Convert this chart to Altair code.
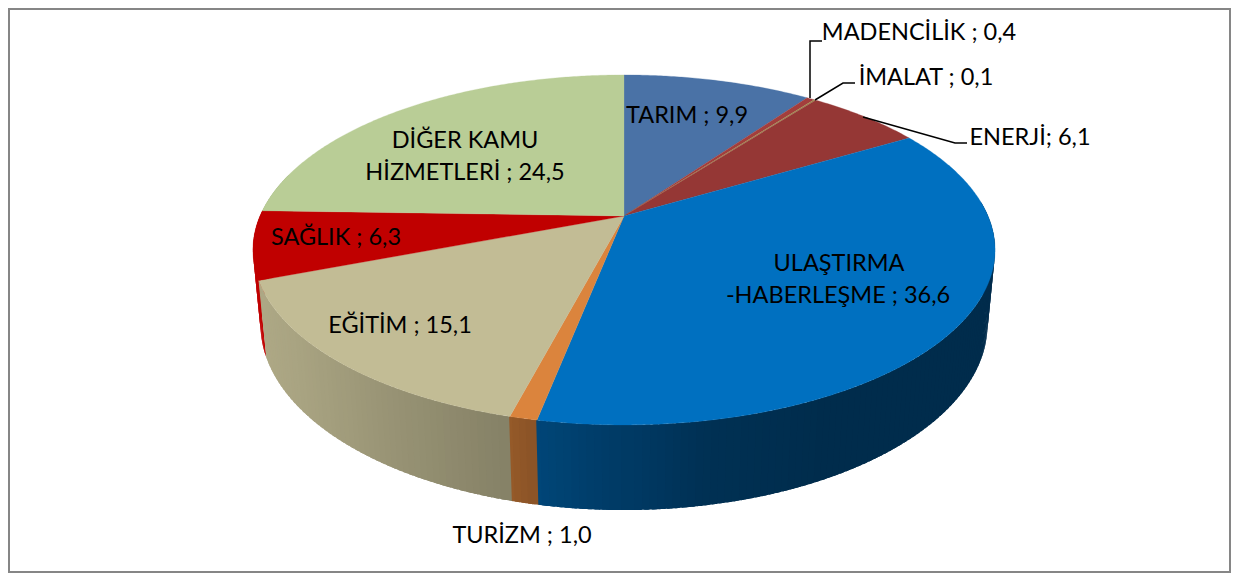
import math
import altair as alt
import pandas as pd

# ---- data ----
categories = ["TARIM", "MADENCİLİK", "İMALAT", "ENERJİ", "ULAŞTIRMA-HABERLEŞME",
              "TURİZM", "EĞİTİM", "SAĞLIK", "DİĞER KAMU HİZMETLERİ"]
values = [9.9, 0.4, 0.1, 6.1, 36.6, 1.0, 15.1, 6.3, 24.5]
colors = ["#4A72A6", "#A33E3C", "#A08A50", "#953735", "#0070C0",
          "#DB843D", "#C2BC95", "#C00000", "#B9CD96"]

label_lines = ["TARIM ; 9,9", "MADENCİLİK ; 0,4", "İMALAT ; 0,1", "ENERJİ; 6,1",
               "ULAŞTIRMA", "-HABERLEŞME ; 36,6", "TURİZM ; 1,0", "EĞİTİM ; 15,1",
               "SAĞLIK ; 6,3", "DİĞER KAMU", "HİZMETLERİ ; 24,5"]
label_x = [687, 919, 926, 1030, 839, 838, 522, 400, 336, 465, 465]
label_y = [116, 33, 78, 138, 264, 296, 536, 326, 238, 141, 173]

leader_paths = [
    [[810, 98], [810, 41], [822, 41]],
    [[815, 100], [843, 83], [855, 83]],
    [[863, 117], [955, 143], [967, 143]],
]

# ---- perspective view of the disc (page pixels) ----
CX, AY = 624.0, 216.0
RX, RY, K = 364.0, 168.4, 0.194
DEPTH, M = 74.5, 0.02
TOTAL = sum(values)


def project(deg, z=0.0):
    t = math.radians(deg)
    X, Y = math.sin(t), math.cos(t)
    w = 1.0 / (1.0 + K * Y + M * z)
    return [CX + RX * X * w, AY + (-RY * Y + DEPTH * z) * w]


def arc_degs(a, b, step=1.0):
    n = max(1, int(math.ceil((b - a) / step)))
    return [a + (b - a) * i / n for i in range(n + 1)]


def shade(hex_color, f):
    r, g, b = (int(hex_color[i:i + 2], 16) for i in (1, 3, 5))
    return "#%02x%02x%02x" % (int(r * f), int(g * f), int(b * f))


def side_factor(x):
    stops = [(255, 0.90), (300, 0.87), (400, 0.78), (510, 0.69), (545, 0.62),
             (700, 0.44), (820, 0.40), (1000, 0.40)]
    for (x0, f0), (x1, f1) in zip(stops, stops[1:]):
        if x <= x1:
            return f0 + (f1 - f0) * (x - x0) / (x1 - x0)
    return stops[-1][1]


def feature(ring, fill):
    return {"type": "Feature",
            "geometry": {"type": "Polygon", "coordinates": [ring + [ring[0]]]},
            "properties": {"fill": fill}}


bounds = []
acc = 0.0
for v in values:
    bounds.append((acc / TOTAL * 360.0, (acc + v) / TOTAL * 360.0))
    acc += v

# side strips, back to front; each strip overlaps its neighbours a little
strips = []
for (a, b), col, cat in zip(bounds, colors, categories):
    lo, hi = max(a, 85.0), min(b, 285.0)
    if hi <= lo:
        continue
    degs = arc_degs(lo, hi, 1.0)
    for d0, d1 in zip(degs, degs[1:]):
        mid = (d0 + d1) / 2
        if mid < 180:
            e0, e1 = max(d0 - 0.6, lo - 0.1), min(d1 + 0.1, hi + 0.1)
        else:
            e0, e1 = max(d0 - 0.1, lo - 0.1), min(d1 + 0.6, hi + 0.1)
        inner = arc_degs(e0, e1, 0.25)
        ring = [project(d) for d in inner] + [project(d, 1) for d in reversed(inner)]
        xm = project(mid)[0]
        f = 1.0 if cat == "SAĞLIK" else side_factor(xm)
        strips.append((math.cos(math.radians(mid)), feature(ring, shade(col, f))))
strips.sort(key=lambda s: -s[0])
side_features = [s[1] for s in strips]

top_features = []
for (a, b), col in zip(bounds, colors):
    ring = [[CX, AY]] + [project(d) for d in arc_degs(a, b, 0.5)]
    top_features.append(feature(ring, col))

frame_feature = {"type": "Feature",
                 "geometry": {"type": "Polygon", "coordinates": [[[9, 9], [1230, 9], [1230, 572], [9, 572], [9, 9]]]},
                 "properties": {"fill": "#ffffff"}}
leader_features = [{"type": "Feature",
                    "geometry": {"type": "LineString", "coordinates": p},
                    "properties": {}} for p in leader_paths]

PROJ = dict(type="identity", scale=1, translate=[-8, -8])

frame = (alt.Chart(alt.Data(values=[frame_feature]))
         .mark_geoshape(fill="#ffffff", stroke="#868686", strokeWidth=2)
         .project(**PROJ))
sides = (alt.Chart(alt.Data(values=side_features))
         .mark_geoshape(strokeWidth=0)
         .encode(fill=alt.Fill("properties.fill:N", scale=None))
         .project(**PROJ))
tops = (alt.Chart(alt.Data(values=top_features))
        .mark_geoshape(strokeWidth=0.3)
        .encode(fill=alt.Fill("properties.fill:N", scale=None),
                stroke=alt.Stroke("properties.fill:N", scale=None))
        .project(**PROJ))
leaders = (alt.Chart(alt.Data(values=leader_features))
           .mark_geoshape(filled=False, stroke="#000000", strokeWidth=1.5)
           .project(**PROJ))
labels = (alt.Chart(pd.DataFrame({"t": label_lines, "x": label_x, "y": label_y}))
          .mark_text(font="Lato", fontSize=23.5, color="#000000", align="center", baseline="middle")
          .encode(longitude="x:Q", latitude="y:Q", text="t:N")
          .project(**PROJ))

chart = (alt.layer(frame, sides, tops, leaders, labels)
         .properties(width=1223, height=565, padding=0, autosize=alt.AutoSizeParams(type="none"),
                     background="#ffffff")
         .configure_view(stroke=None))

chart.save("out.html", embed_options={"renderer": "svg", "actions": False})
